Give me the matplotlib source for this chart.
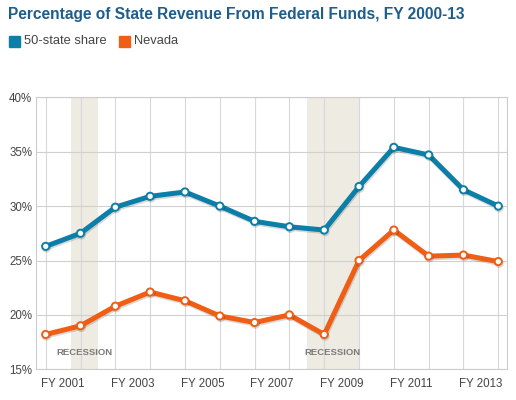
import matplotlib
matplotlib.use("Agg")
import matplotlib.pyplot as plt
import matplotlib.patheffects as pe
from matplotlib.patches import Rectangle

years = list(range(2000, 2014))
us_share = [26.3, 27.5, 29.9, 30.9, 31.3, 30.0, 28.6, 28.1, 27.8, 31.8, 35.4, 34.7, 31.5, 30.0]
nevada = [18.2, 19.0, 20.8, 22.1, 21.3, 19.9, 19.3, 20.0, 18.2, 25.0, 27.8, 25.4, 25.5, 24.9]
recessions = [(2000.73, 2001.5), (2007.5, 2009.0)]
xtick_labels = ["FY 2001", "FY 2003", "FY 2005", "FY 2007", "FY 2009", "FY 2011", "FY 2013"]
ytick_vals = [15, 20, 25, 30, 35, 40]

BLUE = "#0b7fa7"
ORANGE = "#ef5e14"
plt.rcParams['font.family'] = ['Liberation Sans', 'DejaVu Sans']

fig = plt.figure(figsize=(5.16, 4.0), dpi=100)
ax = fig.add_axes([36.3/516, 1-369.3/400, (507-36.3)/516, (369.3-97.3)/400])
ax.set_xlim(1999.73, 2013.25)
ax.set_ylim(15, 40)

for a, b in recessions:
    ax.axvspan(a, b, color="#eeebe3", zorder=0, lw=0)
    ax.text((a+b)/2, 16.5, "RECESSION", ha="center", va="center", fontsize=6.8,
            fontweight="bold", color="#7a7a7a", zorder=1)

for y in years:
    ax.axvline(y, color="#d8d8d8", lw=0.8, zorder=0.5)
for v in ytick_vals:
    ax.axhline(v, color="#d0d0d0", lw=0.8, zorder=0.5)

shadow = [pe.SimpleLineShadow(offset=(0.6, -1.2), shadow_color="#000000", alpha=0.15), pe.Normal()]
ax.plot(years, us_share, color=BLUE, lw=3.6, zorder=3, solid_capstyle="round",
        marker="o", markersize=5.2, markerfacecolor="white", markeredgecolor=BLUE,
        markeredgewidth=1.4, path_effects=shadow)
ax.plot(years, nevada, color=ORANGE, lw=3.6, zorder=3, solid_capstyle="round",
        marker="o", markersize=5.2, markerfacecolor="white", markeredgecolor=ORANGE,
        markeredgewidth=1.4, path_effects=shadow)

ax.set_yticks(ytick_vals)
ax.set_yticklabels([f"{v}%" for v in ytick_vals])
ax.set_xticks([2000.5 + 2*i for i in range(len(xtick_labels))])
ax.set_xticklabels(xtick_labels)
ax.tick_params(axis="both", length=0, labelsize=8.3, colors="#444444")
ax.tick_params(axis="x", pad=6)
ax.tick_params(axis="y", pad=3)
for s in ax.spines.values():
    s.set_color("#cccccc")
    s.set_linewidth(0.8)

fig.text(8/516, 1-15/400, "Percentage of State Revenue From Federal Funds, FY 2000-13",
         fontsize=11.2, fontweight="bold", color="#1e5d8c", va="center", ha="left")
fig.patches.append(Rectangle((9/516, 1-47/400), 11/516, 11/400, transform=fig.transFigure,
                             color=BLUE, figure=fig))
fig.text(24/516, 1-41.5/400, "50-state share", fontsize=9.3, color="#444444", va="center")
fig.patches.append(Rectangle((119/516, 1-47/400), 11/516, 11/400, transform=fig.transFigure,
                             color=ORANGE, figure=fig))
fig.text(134/516, 1-41.5/400, "Nevada", fontsize=9.3, color="#444444", va="center")

fig.savefig("out.png", dpi=100)
